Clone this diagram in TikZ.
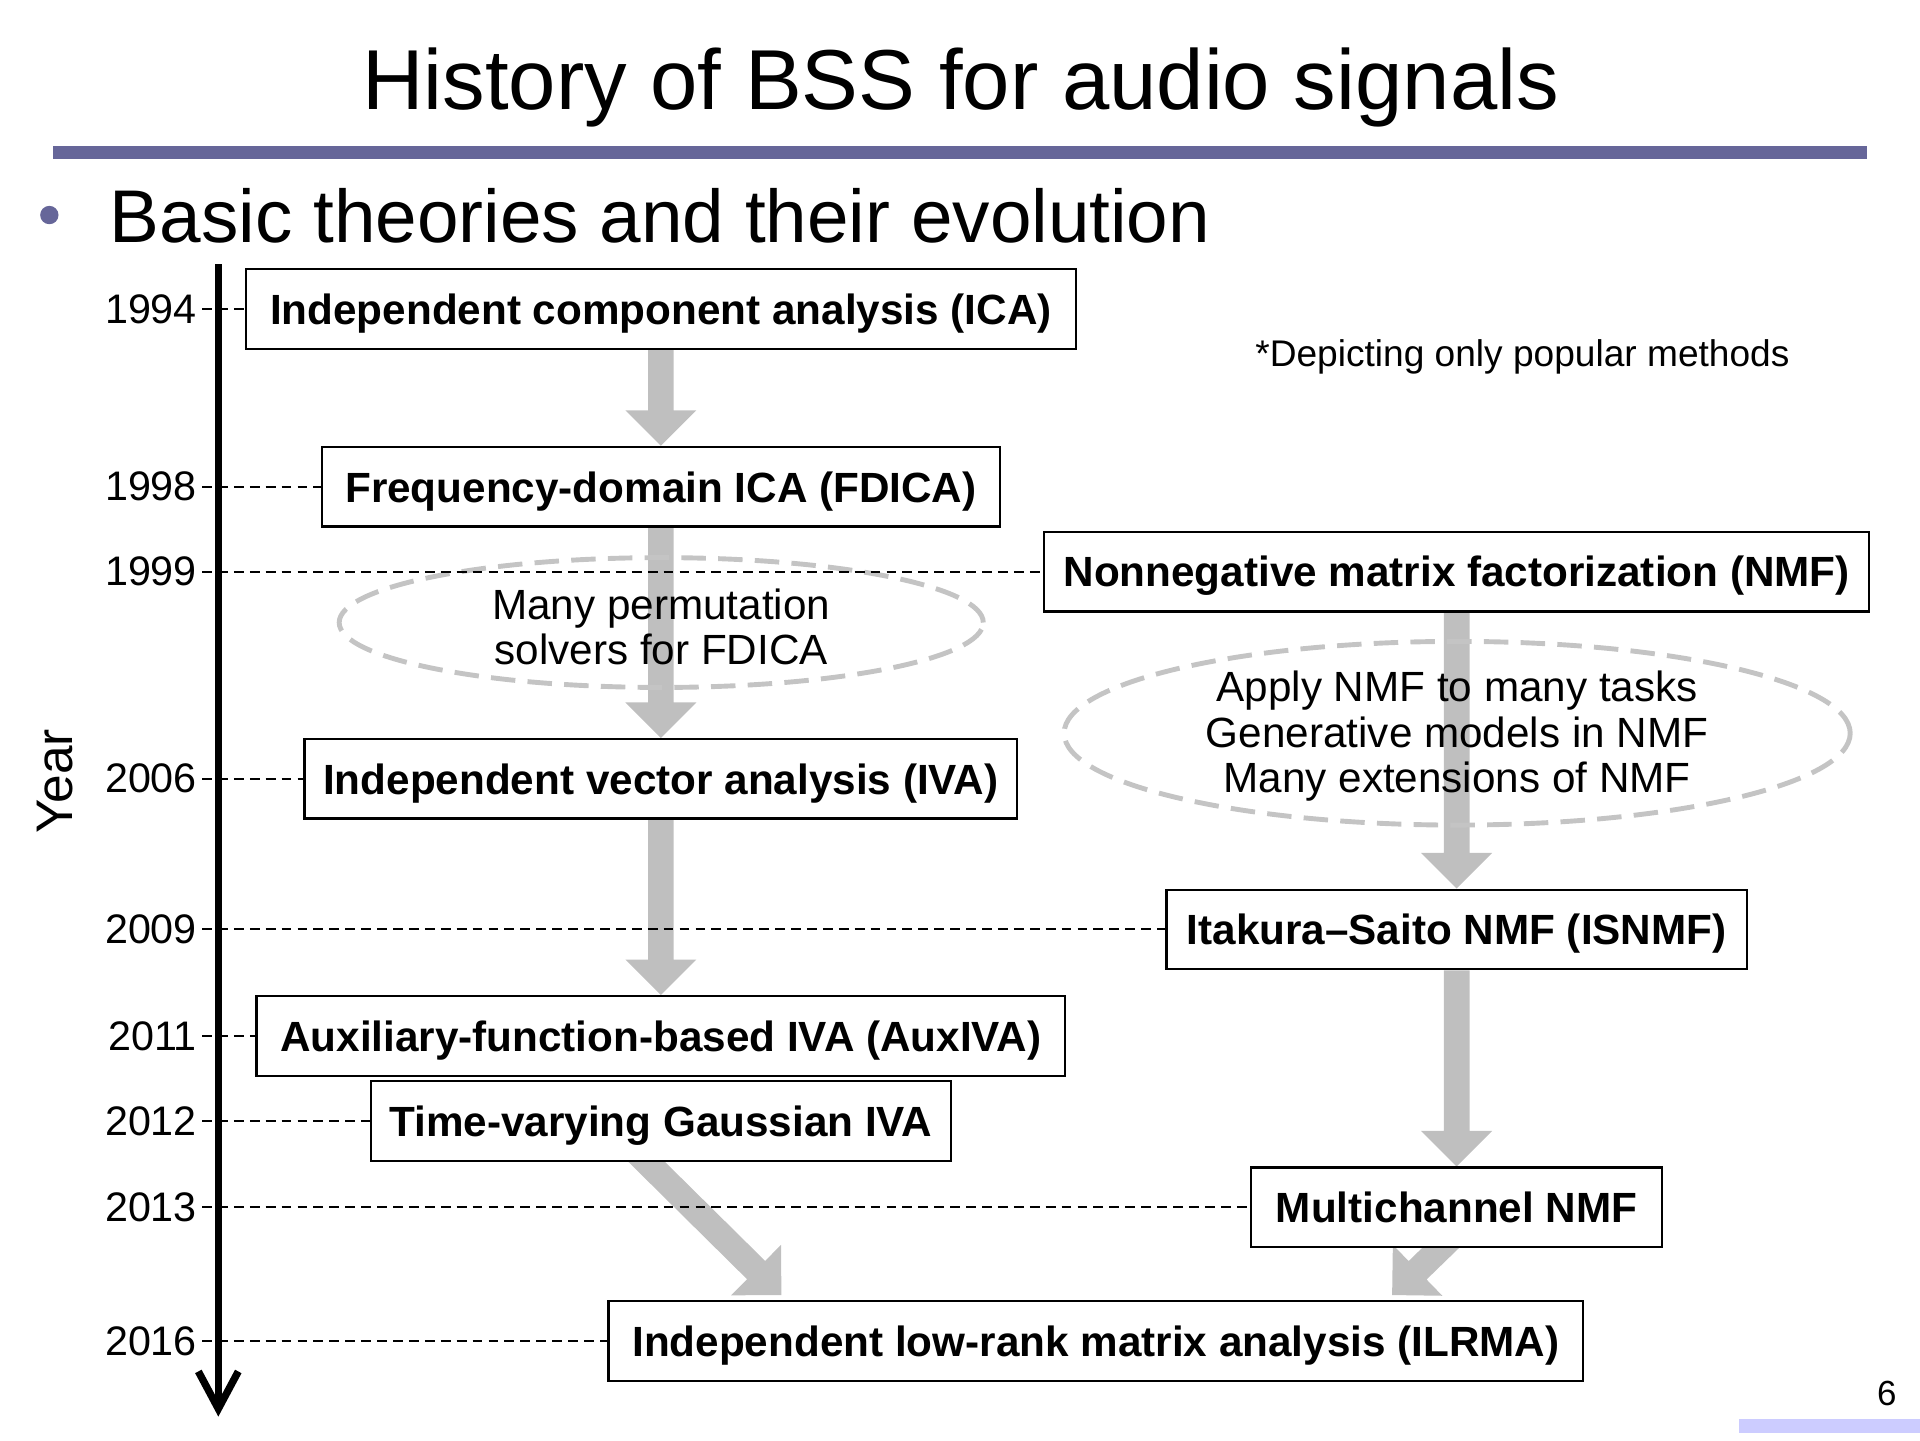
\documentclass[tikz,border=0pt]{standalone}
\usepackage{fontspec}
\setmainfont{Liberation Sans}
\usetikzlibrary{calc,shapes.geometric}
\pgfdeclarelayer{bg}
\pgfsetlayers{bg,main}
\definecolor{barc}{RGB}{102,102,153}
\definecolor{lavc}{RGB}{204,204,255}
\definecolor{arrowc}{RGB}{191,191,191}
\definecolor{ellc}{RGB}{196,196,196}
\newcommand{\blockarrow}[2]{%
  \path ($(#2)!29pt!(#1)$) coordinate (hb);
  \fill[arrowc] ($(#1)!10.5pt!90:(#2)$) -- ($(hb)!10.5pt!90:(#2)$) -- ($(hb)!29pt!90:(#2)$) -- (#2)
    -- ($(hb)!29pt!-90:(#2)$) -- ($(hb)!10.5pt!-90:(#2)$) -- ($(#1)!10.5pt!-90:(#2)$) -- cycle;}
\tikzset{
  box/.style={draw, line width=1.8pt, fill=white, inner xsep=0pt, inner ysep=0pt,
    minimum height=65pt, text height=25pt, text depth=0pt,
    font=\bfseries\fontsize{34.5}{40}\selectfont},
  yearlbl/.style={anchor=east, inner sep=0pt, font=\fontsize{33.7}{40}\selectfont},
  yearline/.style={line width=1.5pt, dash pattern=on 8pt off 5pt},
  ellbox/.style={ellipse, draw=ellc, line width=4pt, dash pattern=on 20pt off 10pt, inner sep=0pt},
  elltext/.style={align=center, inner sep=0pt, font=\fontsize{34.5}{37}\selectfont},
  axisline/.style={line width=6pt, line join=miter, miter limit=10}
}
\begin{document}
\begin{tikzpicture}[x=1pt,y=-1pt]
\useasboundingbox (0,0) rectangle (1568,1176);

% header
\node[anchor=base, inner sep=0pt, font=\fontsize{69.5}{80}\selectfont] (title) at (784.5,89.3) {History of BSS for audio signals};
\fill[barc] (43.2,119.2) rectangle (1525,130.1);
\node[circle, fill=barc, minimum size=15pt, inner sep=0pt] (bullet) at (40.3,175.6) {};
\node[anchor=base west, inner sep=0pt, font=\fontsize{61}{70}\selectfont] (sub) at (89.6,197.9) {Basic theories and their evolution};
\node[anchor=base west, inner sep=0pt, font=\fontsize{30.3}{36}\selectfont] (note) at (1025,299) {*Depicting only popular methods};

% boxes
\node[box, minimum width=677.5pt] (ica) at (539.7,252.4) {Independent component analysis (ICA)};
\node[box, minimum width=553.5pt] (fdica) at (539.7,397.5) {Frequency-domain ICA (FDICA)};
\node[box, minimum width=674pt] (nmf) at (1189.6,466.8) {Nonnegative matrix factorization (NMF)};
\node[box, minimum width=582pt] (iva) at (539.7,636) {Independent vector analysis (IVA)};
\node[box, minimum width=474pt] (isnmf) at (1189.6,759) {Itakura–Saito NMF (ISNMF)};
\node[box, minimum width=660.4pt] (auxiva) at (539.7,846) {Auxiliary-function-based IVA (AuxIVA)};
\node[box, minimum width=473.3pt] (tvgiva) at (539.7,915.5) {Time-varying Gaussian IVA};
\node[box, minimum width=336pt] (mnmf) at (1189.6,986) {Multichannel NMF};
\node[box, minimum width=796pt] (ilrma) at (895,1095) {Independent low-rank matrix analysis (ILRMA)};

% years
\node[yearlbl] (y1994) at (161,252.4) {1994};
\node[yearlbl] (y1998) at (161,397.5) {1998};
\node[yearlbl] (y1999) at (161,466.8) {1999};
\node[yearlbl] (y2006) at (161,636) {2006};
\node[yearlbl] (y2009) at (161,759) {2009};
\node[yearlbl] (y2011) at (161,846) {2011};
\node[yearlbl] (y2012) at (161,915.5) {2012};
\node[yearlbl] (y2013) at (161,986) {2013};
\node[yearlbl] (y2016) at (161,1095) {2016};
\node[rotate=90, inner sep=0pt, font=\fontsize{42}{48}\selectfont] (yearaxis) at (45,638) {Year};

% ellipse texts
\node[elltext] (perm) at (540,512.2) {Many permutation\\solvers for FDICA};
\node[elltext] (nmftasks) at (1190,601.3) {Apply NMF to many tasks\\Generative models in NMF\\Many extensions of NMF};

% coordinates for diagonal arrows
\coordinate (d1s) at ([xshift=-24.7pt,yshift=13pt]tvgiva.south);
\coordinate (d1e) at ([xshift=142pt,yshift=4pt]ilrma.north west);
\coordinate (d2s) at ([yshift=13pt]mnmf.south);
\coordinate (d2e) at ([xshift=-157pt,yshift=4pt]ilrma.north east);

\begin{pgfonlayer}{bg}
  \blockarrow{ica.south}{fdica.north}
  \blockarrow{fdica.south}{iva.north}
  \blockarrow{iva.south}{auxiva.north}
  \blockarrow{nmf.south}{isnmf.north}
  \blockarrow{isnmf.south}{mnmf.north}
  \blockarrow{d1s}{d1e}
  \blockarrow{d2s}{d2e}
  \node[ellbox, minimum width=526pt, minimum height=106pt] (ell1) at (540,508.4) {};
  \node[ellbox, minimum width=642pt, minimum height=150pt] (ell2) at (1190,598.8) {};
  \draw[yearline] ([xshift=4pt]y1994.east) -- (ica.west);
  \draw[yearline] ([xshift=4pt]y1998.east) -- (fdica.west);
  \draw[yearline] ([xshift=4pt]y1999.east) -- (nmf.west);
  \draw[yearline] ([xshift=4pt]y2006.east) -- (iva.west);
  \draw[yearline] ([xshift=4pt]y2009.east) -- (isnmf.west);
  \draw[yearline] ([xshift=4pt]y2011.east) -- (auxiva.west);
  \draw[yearline] ([xshift=4pt]y2012.east) -- (tvgiva.west);
  \draw[yearline] ([xshift=4pt]y2013.east) -- (mnmf.west);
  \draw[yearline] ([xshift=4pt]y2016.east) -- (ilrma.west);
\end{pgfonlayer}

% time axis
\coordinate (axtop) at (178.3,215.6);
\coordinate (axbot) at (178.3,1150.5);
\draw[axisline] (axtop) -- (axbot);
\draw[axisline] ([xshift=-16.3pt,yshift=30.5pt]axbot) -- (axbot) -- ([xshift=16.3pt,yshift=30.5pt]axbot);

% footer
\node[anchor=base east, inner sep=0pt, font=\fontsize{28.5}{34}\selectfont] (pg) at (1549,1147.5) {6};
\fill[lavc] (1420,1159) rectangle (1568,1170);
\end{tikzpicture}
\end{document}
